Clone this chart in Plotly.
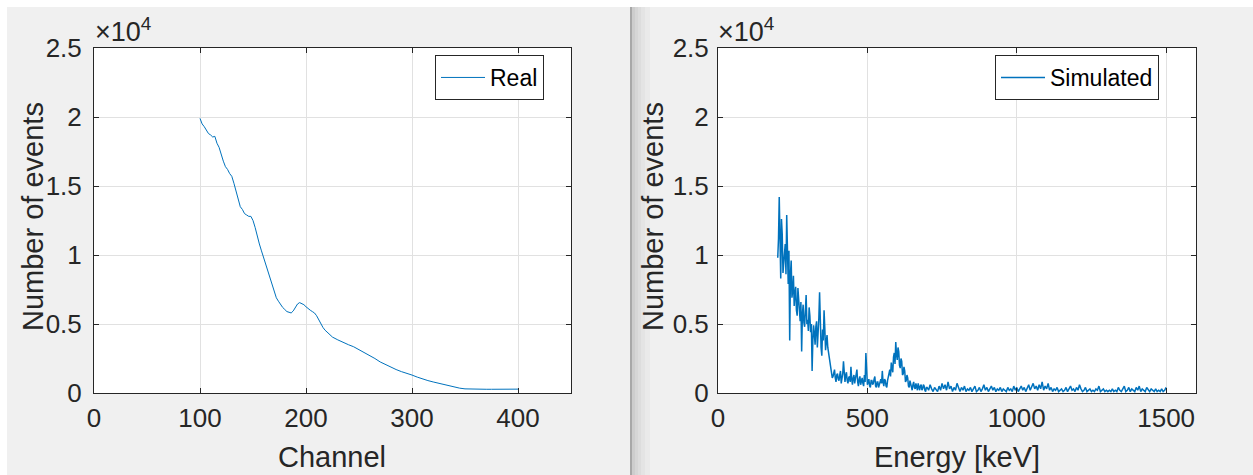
import plotly.graph_objects as go

# Measured spectrum: channel vs. counts
real_channel = [100, 102, 104, 106, 108, 110, 112, 114, 116, 118, 120, 122, 124, 126, 128,
                130, 132, 134, 136, 138, 140, 142, 144, 146, 148, 150, 152, 154, 156, 158,
                160, 162, 164, 166, 168, 170, 172, 174, 176, 178, 180, 182, 184, 186, 188,
                190, 192, 194, 196, 198, 200, 202, 204, 206, 208, 210, 212, 214, 216, 218,
                220, 225, 230, 235, 240, 245, 250, 255, 260, 265, 270, 275, 280, 285, 290,
                295, 300, 305, 310, 315, 320, 325, 330, 335, 340, 345, 350, 355, 360, 365,
                370, 375, 380, 385, 390, 395, 400]
real_counts = [19900, 19500, 19300, 19000, 18800, 18700, 18550, 18600, 18100, 17800, 17200,
               16800, 16400, 16200, 15900, 15700, 15200, 14600, 14000, 13500, 13300, 13000,
               12900, 12800, 12800, 12500, 12000, 11300, 10800, 10300, 9800, 9300, 8800, 8300,
               7800, 7300, 6900, 6650, 6400, 6200, 6050, 5900, 5850, 5800, 5950, 6200, 6450,
               6550, 6500, 6400, 6250, 6100, 6000, 5900, 5800, 5600, 5300, 5000, 4750, 4550,
               4400, 4050, 3850, 3650, 3500, 3350, 3150, 2950, 2750, 2500, 2250, 2050, 1850,
               1700, 1550, 1450, 1300, 1150, 1000, 900, 800, 700, 600, 500, 420, 350, 300, 280,
               270, 260, 270, 270, 280, 290, 290, 290, 280]

# Simulated spectrum: 2.5 keV bins up to 700 keV, 5 keV bins from 700 to 1500 keV
sim_energy_low = [200 + 2.5 * i for i in range(200)]
sim_counts_low = [
    9800, 11200, 14200, 9900, 8300, 12600, 11500, 8700, 9200, 10100,       # 200-222.5
    10800, 8600, 12900, 9400, 7900, 10300, 3800, 8600, 9600, 6900,         # 225-247.5
    7400, 8500, 6300, 7200, 7700, 6000, 5600, 7600, 6900, 5800,            # 250-272.5
    5200, 6600, 3000, 5700, 6400, 5100, 4800, 6000, 7100, 5000,            # 275-297.5
    5300, 4500, 6200, 5600, 4400, 5000, 1600, 3800, 4900, 4300,            # 300-322.5
    3500, 4800, 5200, 3300, 4100, 5400, 7300, 4600, 3300, 2700,            # 325-347.5
    4600, 3800, 6000, 4700, 3100, 3700, 4200, 3300, 2900, 2400,            # 350-372.5
    2200, 1700, 1500, 1100, 1200, 1500, 1700, 1100, 800, 1300,             # 375-397.5
    1400, 1000, 900, 1300, 1600, 700, 1000, 1400, 2300, 1100,              # 400-422.5
    800, 1300, 1500, 900, 700, 1100, 1200, 800, 1900, 1000,                # 425-447.5
    600, 1100, 1300, 700, 1000, 1400, 1700, 800, 500, 1000,                # 450-472.5
    1200, 600, 900, 1100, 700, 500, 1300, 800, 2900, 900,                  # 475-497.5
    600, 800, 1000, 500, 400, 900, 900, 600, 700, 1000,                    # 500-522.5
    1200, 500, 400, 800, 800, 400, 600, 900, 1000, 700,                    # 525-547.5
    1600, 800, 500, 1000, 900, 500, 400, 900, 1100, 1400,                  # 550-572.5
    1700, 1200, 2200, 1800, 1500, 2600, 2900, 2100, 3700, 2800,            # 575-597.5
    2400, 3300, 3000, 2000, 1800, 2500, 2300, 1300, 1400, 1900,            # 600-622.5
    1600, 800, 900, 1300, 1100, 500, 400, 900, 700, 300,                   # 625-647.5
    200, 600, 800, 400, 300, 700, 500, 200, 700, 400,                      # 650-672.5
    200, 500, 600, 200, 300, 600, 500, 200, 100, 400,                      # 675-697.5
]
sim_energy_high = list(range(700, 1501, 5))
sim_counts_high = [
    400, 200, 600, 300, 100, 400, 200, 100, 500, 200,                      # 700-745
    700, 300, 600, 200, 800, 300, 500, 100, 400, 200,                      # 750-795
    700, 300, 100, 400, 200, 500, 100, 300, 200, 400,                      # 800-845
    100, 300, 500, 100, 200, 400, 100, 300, 600, 200,                      # 850-895
    400, 100, 300, 500, 200, 400, 100, 300, 200, 400,                      # 900-945
    100, 300, 200, 100, 400, 200, 300, 100, 500, 200,                      # 950-995
    400, 100, 300, 500, 200, 400, 100, 300, 600, 200,                      # 1000-1045
    400, 700, 300, 500, 200, 600, 300, 800, 200, 500,                      # 1050-1095
    300, 700, 200, 400, 100, 300, 200, 400, 100, 200,                      # 1100-1145
    300, 100, 200, 400, 100, 300, 500, 200, 300, 100,                      # 1150-1195
    400, 200, 600, 300, 100, 200, 400, 100, 200, 300,                      # 1200-1245
    100, 200, 100, 300, 200, 500, 100, 200, 300, 100,                      # 1250-1295
    200, 100, 200, 100, 300, 100, 200, 100, 400, 200,                      # 1300-1345
    100, 300, 500, 100, 200, 400, 100, 300, 200, 100,                      # 1350-1395
    400, 200, 500, 100, 300, 200, 100, 400, 200, 100,                      # 1400-1445
    300, 200, 100, 300, 100, 200, 100, 300, 100, 200,                      # 1450-1495
    400,                                                                   # 1500
]
sim_energy = sim_energy_low + sim_energy_high
sim_counts = sim_counts_low + sim_counts_high

y_ticks = [0, 5000, 10000, 15000, 20000, 25000]
y_tick_text = ["0", "0.5", "1", "1.5", "2", "2.5"]
left_x_ticks = [0, 100, 200, 300, 400]
right_x_ticks = [0, 500, 1000, 1500]

W, H = 1253, 475
FONT = "Liberation Sans, Arial, Helvetica, sans-serif"
INK = "#262626"
LINE = "#0072BD"
GRID = "#e1e1e1"
PANEL = "#f0f0f0"


def px(x):
    return x / W


def py(y):
    return 1 - y / H


fig = go.Figure()
fig.add_trace(go.Scatter(x=real_channel, y=real_counts, mode="lines", name="Real",
                         line=dict(color=LINE, width=1), xaxis="x", yaxis="y",
                         legend="legend"))
fig.add_trace(go.Scatter(x=sim_energy, y=sim_counts, mode="lines", name="Simulated",
                         line=dict(color=LINE, width=1.5), xaxis="x2", yaxis="y2",
                         legend="legend2"))

axis_common = dict(showline=True, linecolor=INK, linewidth=1, mirror="ticks",
                   ticks="inside", ticklen=5, tickcolor=INK, showgrid=True,
                   gridcolor=GRID, gridwidth=1, zeroline=False, automargin=False,
                   tickfont=dict(family=FONT, size=26, color=INK))

legend_common = dict(xanchor="right", yanchor="top", y=py(55), bgcolor="white",
                     bordercolor=INK, borderwidth=1, itemwidth=44, tracegroupgap=0,
                     font=dict(family=FONT, size=23, color="#000000"))

fig.update_layout(
    width=W, height=H, autosize=False,
    margin=dict(l=0, r=0, t=0, b=0, pad=0),
    paper_bgcolor=PANEL, plot_bgcolor="white",
    font=dict(family=FONT, color=INK),
    xaxis=dict(domain=[px(94), px(571)], range=[0, 450], tickvals=left_x_ticks,
               anchor="y", ticklabelstandoff=2, **axis_common),
    yaxis=dict(domain=[py(393), py(48)], range=[0, 25000], tickvals=y_ticks,
               ticktext=y_tick_text, anchor="x", ticklabelstandoff=6, **axis_common),
    xaxis2=dict(domain=[px(718), px(1196)], range=[0, 1600], tickvals=right_x_ticks,
                anchor="y2", ticklabelstandoff=2, **axis_common),
    yaxis2=dict(domain=[py(393), py(48)], range=[0, 25000], tickvals=y_ticks,
                ticktext=y_tick_text, anchor="x2", ticklabelstandoff=3, **axis_common),
    legend=dict(x=px(544), **legend_common),
    legend2=dict(x=px(1159), **legend_common),
    showlegend=True,
)

# White margin strips around the figure windows and the seam between them
shapes = [
    dict(type="rect", xref="paper", yref="paper", x0=0, x1=1, y0=py(7), y1=1,
         fillcolor="white", line_width=0, layer="below"),
    dict(type="rect", xref="paper", yref="paper", x0=0, x1=px(7), y0=0, y1=1,
         fillcolor="white", line_width=0, layer="below"),
]
seam = [(630, 632, "#a8a8a8"), (632, 635, "#cdcdcd"), (635, 638, "#d6d6d6"),
        (638, 641, "#dddddd"), (641, 645, "#e4e4e4"), (645, 650, "#eaeaea")]
for a, b, c in seam:
    shapes.append(dict(type="rect", xref="paper", yref="paper", x0=px(a), x1=px(b),
                       y0=0, y1=py(7), fillcolor=c, line_width=0, layer="below"))
fig.update_layout(shapes=shapes)

title_font = dict(family=FONT, size=29, color=INK)
exp_font = dict(family=FONT, size=27, color=INK)
annotations = [
    dict(text="Number of events", x=px(33), y=py(217), textangle=-90, font=title_font),
    dict(text="Number of events", x=px(653), y=py(217), textangle=-90, font=title_font),
    dict(text="Channel", x=px(332), y=py(457), font=title_font),
    dict(text="Energy [keV]", x=px(957), y=py(457), font=title_font),
    dict(text="×10<sup>4</sup>", x=px(93), y=py(30), xanchor="left", font=exp_font),
    dict(text="×10<sup>4</sup>", x=px(716), y=py(30), xanchor="left", font=exp_font),
]
for a in annotations:
    a.update(xref="paper", yref="paper", showarrow=False)
    a.setdefault("xanchor", "center")
    a.setdefault("yanchor", "middle")
fig.update_layout(annotations=annotations)

# Page body without default margins so the figure fills the window exactly
page_script = ("document.body.style.margin='0';"
               "document.body.style.overflow='hidden';")
fig.write_html("out.html", config={"responsive": False}, post_script=page_script)
